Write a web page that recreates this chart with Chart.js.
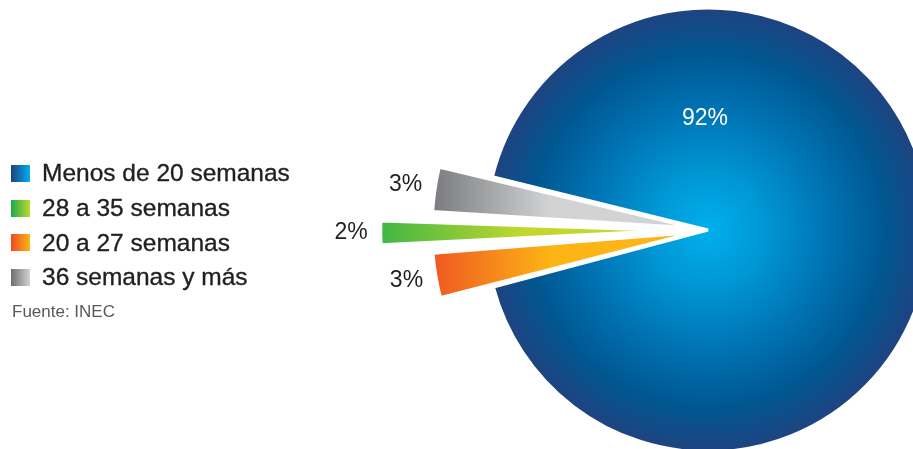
<!DOCTYPE html>
<html>
<head>
<meta charset="utf-8">
<script src="https://cdn.jsdelivr.net/npm/chart.js@4"></script>
<style>
  body { margin: 0; background: #fff; font-family: "Liberation Sans", Arial, sans-serif; }
  #wrap { position: relative; width: 913px; height: 449px; overflow: hidden; }
  .layer { position: absolute; left: 0; top: 0; width: 913px; height: 449px; }
  #legend { position: absolute; left: 11px; top: 156px; }
  .item { display: flex; align-items: center; height: 34.7px; font-size: 24.5px; color: #231f20; white-space: nowrap; -webkit-text-stroke: 0.35px #231f20; }
  .box { width: 19px; height: 17px; margin-right: 12px; }
  #fuente { font-size: 17px; color: #58595b; margin-top: 7px; margin-left: 1px; }
</style>
</head>
<body>
<div id="wrap">
  <div class="layer"><canvas id="pieBack"></canvas></div>
  <div class="layer"><canvas id="pieFront"></canvas></div>
  <div id="legend"></div>
</div>
<script>
// semanas de gestación, en el orden en que se dibujan las porciones (sentido horario)
var labels = ["Menos de 20 semanas", "20 a 27 semanas", "28 a 35 semanas", "36 semanas y más"];
var values = [92, 3, 2, 3];
var legendOrder = [0, 2, 1, 3];
var source = "Fuente: INEC";

// colores: [exterior, interior]
var shades = [
  ["#1f4180", "#00aeef"],
  ["#ee4a23", "#fcb515"],
  ["#18ab4b", "#c2d82f"],
  ["#6d6e71", "#d1d3d4"]
];
// Chart.js desplaza cada arco offset/4 px
var explode = [0, 70, 177, 70];
var pieRadius = 222;
var wedgeRadius = 244;
var rotation = -76.1;

function centerOf(chart) {
  var a = chart.chartArea;
  return { x: (a.left + a.right) / 2, y: (a.top + a.bottom) / 2 };
}

// distancia del centro al borde exterior de una porción desplazada
function outerReach(i) {
  var t = explode[i] / 4;
  var circ = values[i] / 100 * 2 * Math.PI;
  var fix = 1 - Math.sin(Math.min(Math.PI, circ));
  return t + wedgeRadius + t * fix;
}

// porción grande: degradado radial
function blueFill(context) {
  if (context.dataIndex !== 0) return "rgba(0,0,0,0)";
  var chart = context.chart;
  if (!chart.chartArea) return shades[0][0];
  var c = centerOf(chart);
  var g = chart.ctx.createRadialGradient(c.x, c.y, 0, c.x, c.y, pieRadius);
  g.addColorStop(0, "#00b0eb");
  g.addColorStop(0.25, "#0097d5");
  g.addColorStop(0.55, "#0072b2");
  g.addColorStop(0.8, "#005791");
  g.addColorStop(1, "#1f4380");
  return g;
}

// porciones pequeñas: degradado de afuera hacia el centro
function wedgeFill(context) {
  var i = context.dataIndex;
  if (i === 0) return "rgba(0,0,0,0)";
  var chart = context.chart;
  if (!chart.chartArea) return shades[i][0];
  var c = centerOf(chart);
  var g = chart.ctx.createLinearGradient(c.x - outerReach(i), 0, c.x - 140, 0);
  g.addColorStop(0, shades[i][0]);
  g.addColorStop(1, shades[i][1]);
  return g;
}

var pctLabels = {
  id: "pctLabels",
  afterDatasetsDraw: function(chart) {
    var ctx = chart.ctx;
    var arcs = chart.getDatasetMeta(0).data;
    ctx.save();
    ctx.font = '23px "Liberation Sans", Arial, sans-serif';
    ctx.textAlign = "center";
    ctx.textBaseline = "middle";
    arcs.forEach(function(arc, i) {
      var x, y;
      if (i === 0) {
        x = arc.x - 3;
        y = arc.y - pieRadius * 0.5;
        ctx.fillStyle = "#ffffff";
      } else {
        var mid = (arc.startAngle + arc.endAngle) / 2;
        var r = outerReach(i) + 30;
        x = arc.x + Math.cos(mid) * r;
        y = arc.y + Math.sin(mid) * r;
        ctx.fillStyle = "#231f20";
      }
      ctx.fillText(values[i] + "%", x, y);
    });
    ctx.restore();
  }
};

function baseOptions(radius) {
  return {
    responsive: true,
    maintainAspectRatio: false,
    animation: false,
    rotation: rotation,
    radius: radius,
    layout: { padding: { left: 503, top: 11, right: 0, bottom: 0 } },
    plugins: { legend: { display: false }, tooltip: { enabled: false } },
    events: []
  };
}

new Chart(document.getElementById("pieBack"), {
  type: "pie",
  data: {
    labels: labels,
    datasets: [{
      data: values,
      backgroundColor: blueFill,
      borderColor: "#ffffff",
      borderWidth: [3, 0, 0, 0],
      clip: false
    }]
  },
  options: baseOptions(pieRadius)
});

new Chart(document.getElementById("pieFront"), {
  type: "pie",
  data: {
    labels: labels,
    datasets: [{
      data: values,
      backgroundColor: wedgeFill,
      borderColor: "#ffffff",
      borderWidth: [0, 2.5, 2.5, 2.5],
      offset: explode,
      clip: false
    }]
  },
  options: baseOptions(wedgeRadius),
  plugins: [pctLabels]
});

// leyenda
var legend = document.getElementById("legend");
legendOrder.forEach(function(i) {
  var row = document.createElement("div");
  row.className = "item";
  var box = document.createElement("span");
  box.className = "box";
  box.style.background = "linear-gradient(to right, " + shades[i][0] + ", " + shades[i][1] + ")";
  row.appendChild(box);
  row.appendChild(document.createTextNode(labels[i]));
  legend.appendChild(row);
});
var f = document.createElement("div");
f.id = "fuente";
f.textContent = source;
legend.appendChild(f);
</script>
</body>
</html>
